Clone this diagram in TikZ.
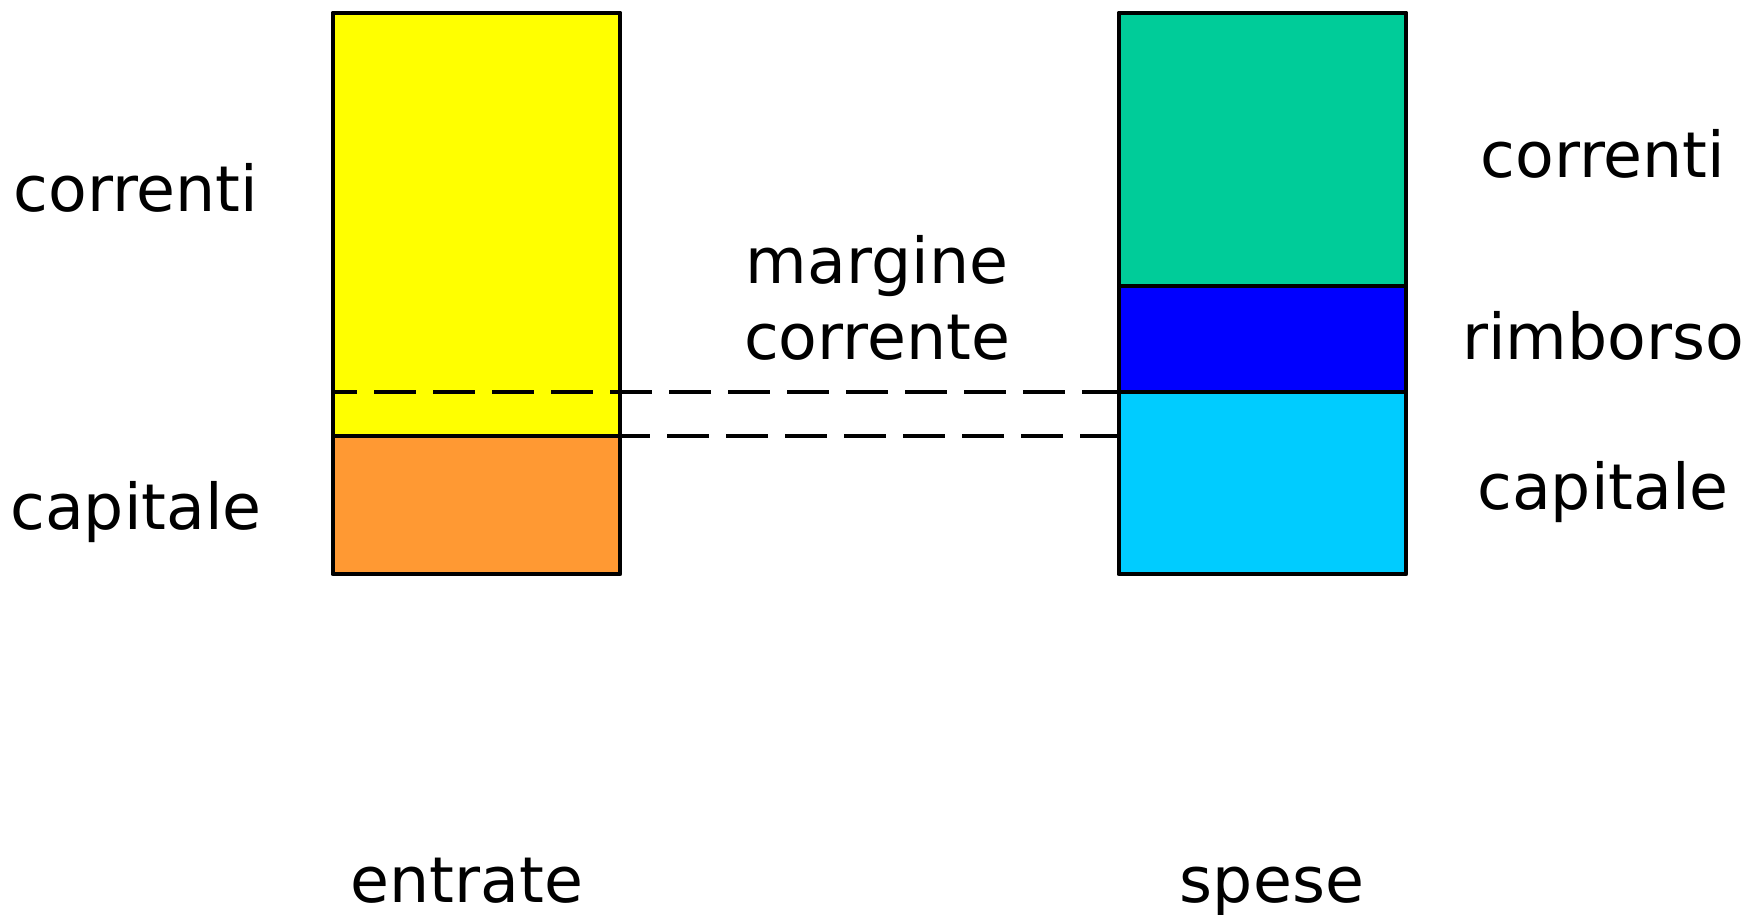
\documentclass[tikz,border=0pt]{standalone}
\usepackage{fontspec}
\setmainfont{DejaVu Sans}

\definecolor{entcorr}{HTML}{FFFF00}
\definecolor{entcap}{HTML}{FF9933}
\definecolor{spcorr}{HTML}{00CC99}
\definecolor{sprimb}{HTML}{0000FF}
\definecolor{spcap}{HTML}{00CCFF}

\begin{document}
\begin{tikzpicture}[x=0.01cm, y=-0.01cm, line width=1.4pt, line join=round,
  lbl/.style={font=\fontsize{18}{22}\selectfont, anchor=base, inner sep=0pt},
  margin line/.style={dash pattern=on 0.42cm off 0.17cm}]

\useasboundingbox (0,0) rectangle (1750,915);

\def\yt{13};
\def\yrimb{286};
\def\ymarg{392};
\def\ycap{436};
\def\yb{574};

\def\xel{333};
\def\xer{620};
\def\xsl{1119};
\def\xsr{1406};

% entrate
\filldraw[fill=entcorr] (\xel, \yt) rectangle (\xer, \ycap);
\filldraw[fill=entcap] (\xel, \ycap) rectangle (\xer, \yb);

% spese
\filldraw[fill=spcorr] (\xsl, \yt) rectangle (\xsr, \yrimb);
\filldraw[fill=sprimb] (\xsl, \yrimb) rectangle (\xsr, \ymarg);
\filldraw[fill=spcap] (\xsl, \ymarg) rectangle (\xsr, \yb);

\coordinate (mleft) at (\xel, \ymarg);
\coordinate (mright) at (\xsl, \ymarg);
\coordinate (cleft) at (\xer, \ycap);
\coordinate (cright) at (\xsl, \ycap);

\draw[margin line, dash phase=0.18cm] (mleft) -- (mright);
\draw[margin line, dash phase=0.12cm] (cleft) -- (cright);

\node[lbl] (lcorr) at (136, 212) {correnti};
\node[lbl] (lcap) at (136, 529) {capitale};

\node[lbl] (marg) at (877, 284) {margine};
\node[lbl] (mcorr) at (877, 360) {corrente};

\node[lbl] (rcorr) at (1603, 177) {correnti};
\node[lbl] (rrimb) at (1603, 360) {rimborso};
\node[lbl] (rcap) at (1603, 509) {capitale};

\node[lbl] (entr) at (467, 902) {entrate};
\node[lbl] (spes) at (1272, 902) {spese};

\end{tikzpicture}
\end{document}
